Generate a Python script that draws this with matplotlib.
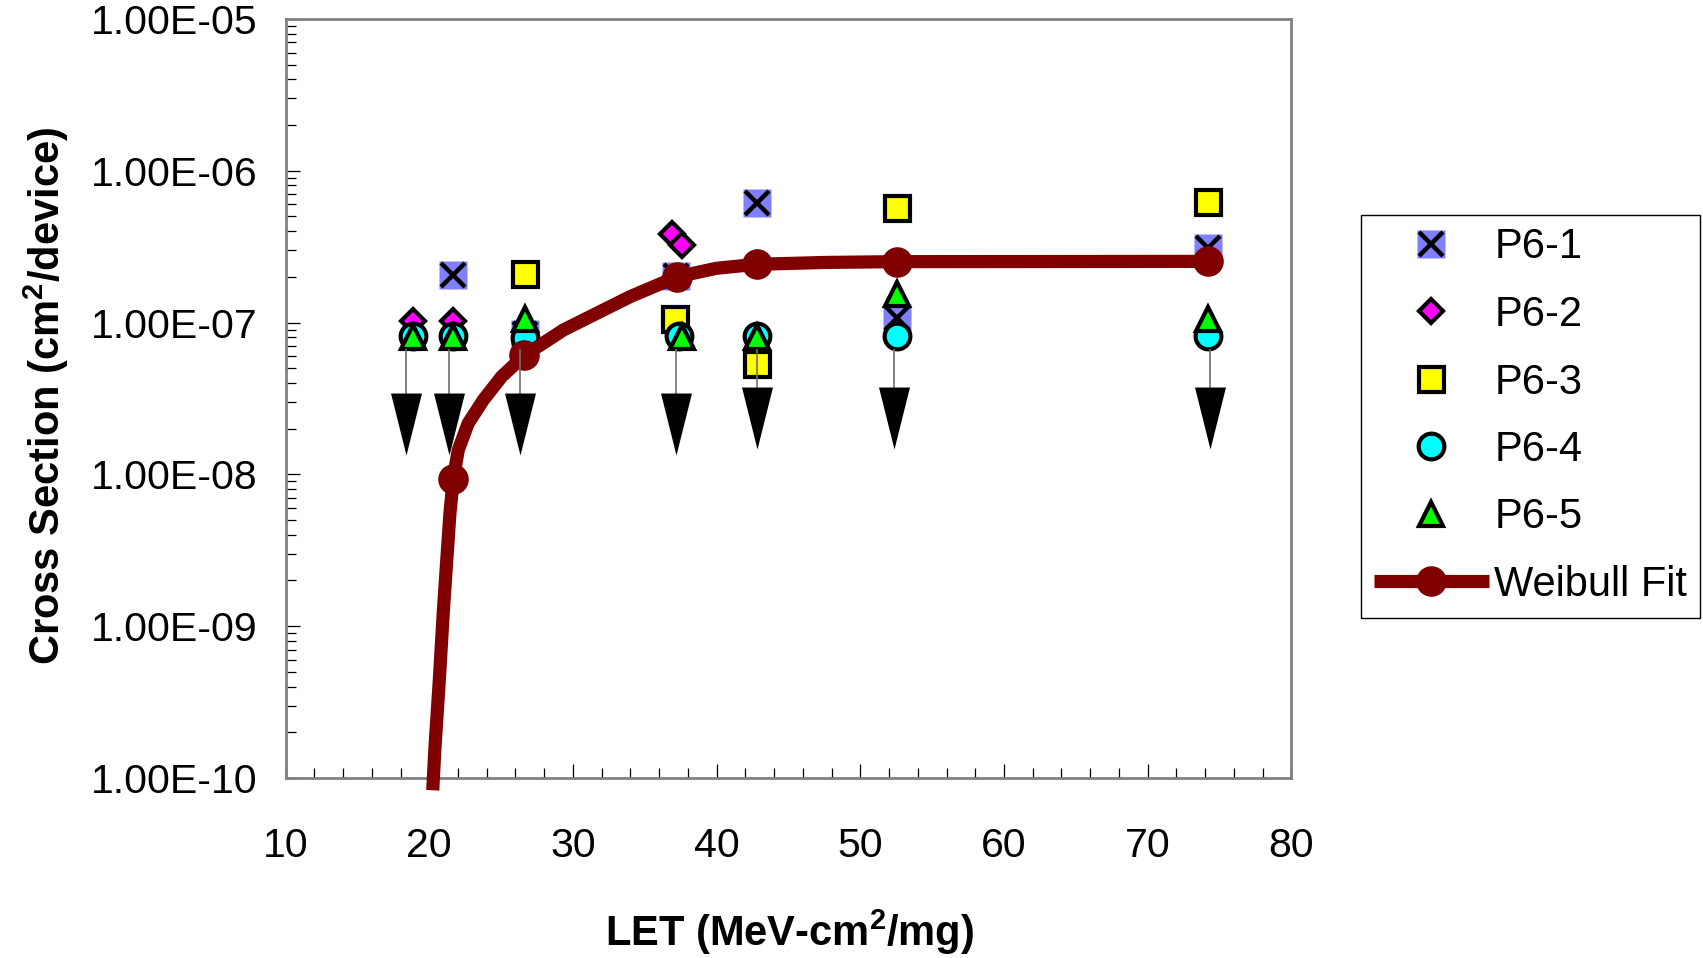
import matplotlib
matplotlib.use("Agg")
import matplotlib.pyplot as plt
from matplotlib.ticker import FixedLocator, LogLocator, MultipleLocator, FuncFormatter, NullFormatter
from matplotlib.legend_handler import HandlerTuple

plt.rcParams["font.family"] = ["Liberation Sans", "DejaVu Sans"]
plt.rcParams["mathtext.fontset"] = "custom"
plt.rcParams["mathtext.rm"] = "Liberation Sans"
plt.rcParams["mathtext.bf"] = "Liberation Sans:bold"
plt.rcParams["mathtext.default"] = "bf"

# Measured cross sections per device (LET in MeV-cm2/mg, sigma in cm2/device)
p61_let = [21.67, 26.64, 37.20, 42.78, 52.53, 74.21]
p61_sig = [2.07e-7, 8.4e-8, 2.04e-7, 6.1e-7, 1.08e-7, 3.1e-7]

p62_let = [18.89, 21.67, 36.88, 37.58, 42.78]
p62_sig = [1.02e-7, 1.02e-7, 3.85e-7, 3.22e-7, 2.45e-7]

p63_let = [26.64, 37.10, 42.78, 52.53, 74.21]
p63_sig = [2.1e-7, 1.05e-7, 5.3e-8, 5.7e-7, 6.25e-7]

p64_let = [18.89, 21.67, 26.64, 37.40, 42.78, 52.53, 74.21]
p64_sig = [8.2e-8, 8.2e-8, 7.9e-8, 8.1e-8, 8.2e-8, 8.1e-8, 8.1e-8]

p65_let = [18.89, 21.67, 26.64, 37.58, 42.78, 52.53, 74.21]
p65_sig = [8.0e-8, 8.0e-8, 1.05e-7, 8.0e-8, 8.0e-8, 1.54e-7, 1.05e-7]

# Upper-limit arrows (no upsets seen): line from top value down to arrow head
arrow_let = [18.38, 21.37, 26.31, 37.17, 42.81, 52.35, 74.33]
arrow_top = [6.7e-8, 6.7e-8, 6.7e-8, 6.7e-8, 6.7e-8, 6.7e-8, 6.7e-8]
arrow_head = [2.15e-8, 2.15e-8, 2.15e-8, 2.15e-8, 2.35e-8, 2.35e-8, 2.35e-8]

# Weibull fit curve, dots at the fitted LETs
fit_let = [20.24, 20.40, 20.70, 20.97, 21.28, 21.44, 21.67, 22.02, 22.71, 23.76, 25.04,
           26.62, 29.33, 31.65, 33.97, 37.22, 40.00, 42.78, 47.60, 52.53, 74.21]
fit_sig = [8.3e-11, 1.61e-10, 4.43e-10, 1.22e-9, 3.34e-9, 5.57e-9, 9.33e-9, 1.45e-8, 2.17e-8,
           3.09e-8, 4.41e-8, 6.08e-8, 8.93e-8, 1.15e-7, 1.48e-7, 2.0e-7, 2.28e-7, 2.42e-7,
           2.49e-7, 2.52e-7, 2.53e-7]
fit_dot_idx = [6, 11, 15, 17, 19, 20]

y_ticks = [1e-10, 1e-9, 1e-8, 1e-7, 1e-6, 1e-5]

fig = plt.figure(figsize=(17.03, 9.58), dpi=100)
ax = fig.add_axes([0.1677, 0.1879, 0.5906, 0.7923])
ax.set_yscale("log")
ax.set_xlim(10, 80)
ax.set_ylim(1e-10, 1e-5)

edge = dict(markeredgecolor="black", markeredgewidth=3, linestyle="none")

p61_bg, = ax.plot(p61_let, p61_sig, "s", ms=20, color="#8080ff", mec="none", ls="none", zorder=3)
p61_x, = ax.plot(p61_let, p61_sig, "x", ms=17, color="black", mew=3.2, ls="none", zorder=3)
p62, = ax.plot(p62_let, p62_sig, "D", ms=12.5, color="#ff00ff", zorder=3, **edge)
p63, = ax.plot(p63_let, p63_sig, "s", ms=18, color="#ffff00", zorder=3, **edge)
p64, = ax.plot(p64_let, p64_sig, "o", ms=18.5, color="#00ffff", zorder=3, **edge)
p65, = ax.plot(p65_let, p65_sig, "^", ms=17, color="#00ff00", zorder=3, **edge)

fit, = ax.plot(fit_let, fit_sig, "-o", color="#800000", lw=9.5, ms=21, mec="#800000",
               markevery=fit_dot_idx, solid_capstyle="butt", solid_joinstyle="round",
               clip_on=False, zorder=5)

ax.vlines(arrow_let, arrow_head, arrow_top, colors="#6f6f6f", lw=1.2, zorder=6)
ax.plot(arrow_let, arrow_head, ls="none", marker=[(-0.5, 1.0), (0.5, 1.0), (0.0, -1.0)],
        ms=44.6, color="black", mew=0, zorder=7)

# axes styling
ax.xaxis.set_major_locator(MultipleLocator(10))
ax.xaxis.set_minor_locator(MultipleLocator(2))
ax.yaxis.set_major_locator(FixedLocator(y_ticks))
ax.yaxis.set_minor_locator(LogLocator(base=10, subs=range(2, 10), numticks=20))
ax.yaxis.set_major_formatter(FuncFormatter(lambda v, p: f"{v:.2E}"))
ax.yaxis.set_minor_formatter(NullFormatter())

ax.tick_params(axis="both", which="both", direction="in", width=0.9, colors="black", labelsize=29.5)
ax.tick_params(axis="both", which="major", length=10)
ax.tick_params(axis="both", which="minor", length=7)
ax.tick_params(axis="x", pad=35)
ax.tick_params(axis="y", pad=20)

for s in ax.spines.values():
    s.set_color("#808080")
    s.set_linewidth(2)

ax.set_xlabel("LET (MeV-cm$^2$/mg)", fontsize=30, fontweight="bold", va="center")
ax.xaxis.set_label_coords(0.5015, -0.203)
ax.set_ylabel("Cross Section (cm$^2$/device)", fontsize=30, fontweight="bold", va="center")
ax.yaxis.set_label_coords(-0.238, 0.503)

leg = ax.legend([(p61_bg, p61_x), p62, p63, p64, p65, fit],
                ["P6-1", "P6-2", "P6-3", "P6-4", "P6-5", "Weibull Fit"],
                loc="upper left", bbox_to_anchor=(1361 / 1703, 1 - 215 / 958),
                bbox_transform=fig.transFigure, borderaxespad=0, frameon=True,
                fancybox=False, edgecolor="black", framealpha=1, fontsize=30,
                numpoints=1, handlelength=2.78, handletextpad=0.12, labelspacing=0.66,
                borderpad=0.3, handler_map={tuple: HandlerTuple(ndivide=1, pad=0)})
leg.get_frame().set_linewidth(1.0)

fig.savefig("out.png", dpi=100)
